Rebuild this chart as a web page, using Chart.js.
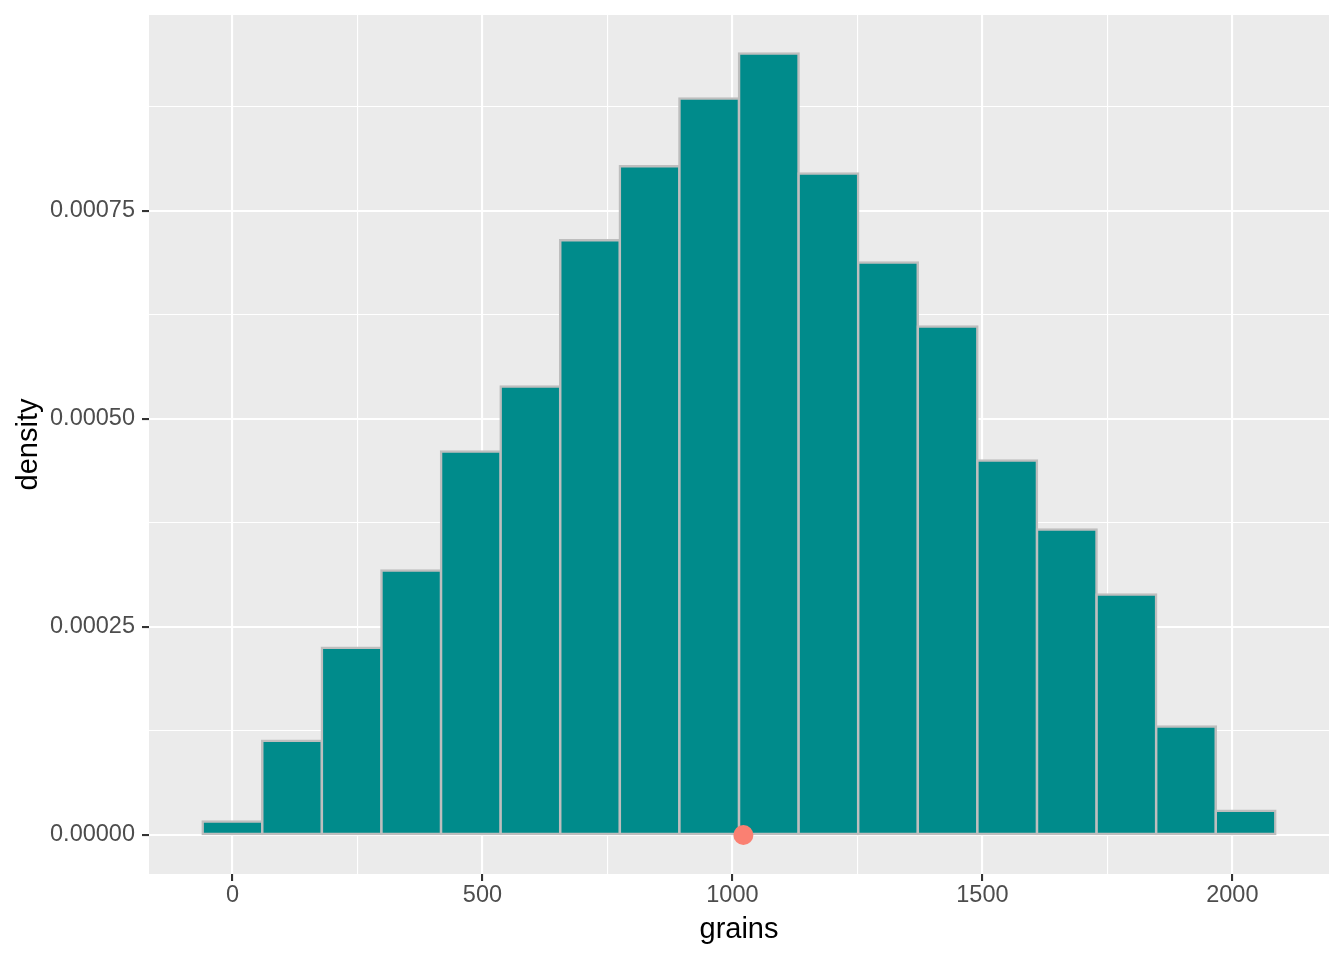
<!DOCTYPE html>
<html>
<head>
<meta charset="utf-8">
<script src="https://cdn.jsdelivr.net/npm/chart.js@4.4.1/dist/chart.umd.min.js"></script>
<style>
  html, body { margin: 0; padding: 0; background: #ffffff; }
  #wrap { width: 1344px; height: 960px; }
</style>
</head>
<body>
<div id="wrap"><canvas id="histChart" width="1344" height="960"></canvas></div>
<script>
// histogram bins: centre of each bin (grains) and its density
const binCenters = [0, 119.2, 238.4, 357.6, 476.8, 596, 715.2, 834.4, 953.6,
                    1072.8, 1192, 1311.2, 1430.4, 1549.6, 1668.8, 1788, 1907.2, 2026.4];
const densities = [0.0000163, 0.0001133, 0.000225, 0.0003177, 0.0004607, 0.0005388,
                   0.0007143, 0.0008032, 0.0008846, 0.0009387, 0.0007945, 0.0006878,
                   0.0006109, 0.0004499, 0.0003669, 0.0002888, 0.0001302, 0.0000292];

// the single highlighted point on the axis
const markX = [1022];
const markY = [0];

// ticks
const xMajorTicks = [0, 500, 1000, 1500, 2000];
const xMinorTicks = [250, 750, 1250, 1750];
const yMajorTicks = [0, 0.00025, 0.0005, 0.00075];
const yMinorTicks = [0.000125, 0.000375, 0.000625, 0.000875];

// axis ranges (ggplot's 5% expansion)
const xRange = [-166.9, 2193.3];
const yRange = [-0.0000469, 0.000985];

const isIn = (list, v) => list.some(t => Math.abs(t - v) < 1e-9);

// keep the scales from pushing the panel in for label overhang
const noOverhang = axis => {
  axis.paddingTop = 0;
  axis.paddingBottom = 0;
  axis.paddingLeft = 0;
  axis.paddingRight = 0;
};

// grey panel behind the grid
const panelBg = {
  id: 'panelBg',
  beforeDraw(chart) {
    const { ctx, chartArea: a } = chart;
    ctx.save();
    ctx.fillStyle = '#EBEBEB';
    ctx.fillRect(a.left, a.top, a.right - a.left, a.bottom - a.top);
    ctx.restore();
  }
};

Chart.defaults.font.family = "'Liberation Sans', Arial, sans-serif";

const ctx = document.getElementById('histChart').getContext('2d');

const histChart = new Chart(ctx, {
  type: 'bar',
  data: {
    datasets: [
      {
        type: 'scatter',
        data: markX.map((x, i) => ({ x: x, y: markY[i] })),
        backgroundColor: '#FA8072',
        borderWidth: 0,
        pointRadius: 10,
        order: 1
      },
      {
        type: 'bar',
        data: binCenters.map((x, i) => ({ x: x, y: densities[i] })),
        backgroundColor: '#008B8B',
        borderColor: '#BEBEBE',
        borderWidth: 2.5,
        borderSkipped: false,
        inflateAmount: 1.25,
        barPercentage: 1,
        categoryPercentage: 1,
        order: 2
      }
    ]
  },
  options: {
    responsive: false,
    animation: false,
    layout: { autoPadding: false, padding: { left: 0, top: 15, right: 15, bottom: 0 } },
    plugins: {
      legend: { display: false },
      tooltip: { enabled: false }
    },
    scales: {
      x: {
        type: 'linear',
        min: xRange[0],
        max: xRange[1],
        offset: false,
        afterBuildTicks: axis => {
          axis.ticks = xMajorTicks.concat(xMinorTicks).sort((a, b) => a - b).map(v => ({ value: v }));
        },
        afterFit: axis => { axis.height = 86; noOverhang(axis); },
        border: { display: false },
        grid: {
          offset: false,
          color: '#FFFFFF',
          lineWidth: c => (c.tick && isIn(xMajorTicks, c.tick.value)) ? 2.1 : 1.1,
          drawTicks: true,
          tickLength: 7,
          tickWidth: 2.1,
          tickColor: c => (c.tick && isIn(xMajorTicks, c.tick.value)) ? '#333333' : 'rgba(0,0,0,0)'
        },
        ticks: {
          autoSkip: false,
          maxRotation: 0,
          padding: 0,
          color: '#4D4D4D',
          font: { size: 23.5 },
          callback: v => isIn(xMajorTicks, v) ? String(v) : ''
        },
        title: {
          display: true,
          text: 'grains',
          color: '#000000',
          font: { size: 29 },
          padding: { top: 0, bottom: 13 }
        }
      },
      y: {
        type: 'linear',
        min: yRange[0],
        max: yRange[1],
        afterBuildTicks: axis => {
          axis.ticks = yMajorTicks.concat(yMinorTicks).sort((a, b) => a - b).map(v => ({ value: v }));
        },
        afterFit: axis => { axis.width = 149; noOverhang(axis); },
        border: { display: false },
        grid: {
          color: '#FFFFFF',
          lineWidth: c => (c.tick && isIn(yMajorTicks, c.tick.value)) ? 2.1 : 1.1,
          drawTicks: true,
          tickLength: 7,
          tickWidth: 2.1,
          tickColor: c => (c.tick && isIn(yMajorTicks, c.tick.value)) ? '#333333' : 'rgba(0,0,0,0)'
        },
        ticks: {
          autoSkip: false,
          padding: 7,
          color: '#4D4D4D',
          font: { size: 23.5 },
          callback: v => isIn(yMajorTicks, v) ? v.toFixed(5) : ''
        },
        title: {
          display: true,
          text: 'density',
          color: '#000000',
          font: { size: 29 },
          padding: { top: 11.5, bottom: 0 }
        }
      }
    }
  },
  plugins: [panelBg]
});
</script>
</body>
</html>
